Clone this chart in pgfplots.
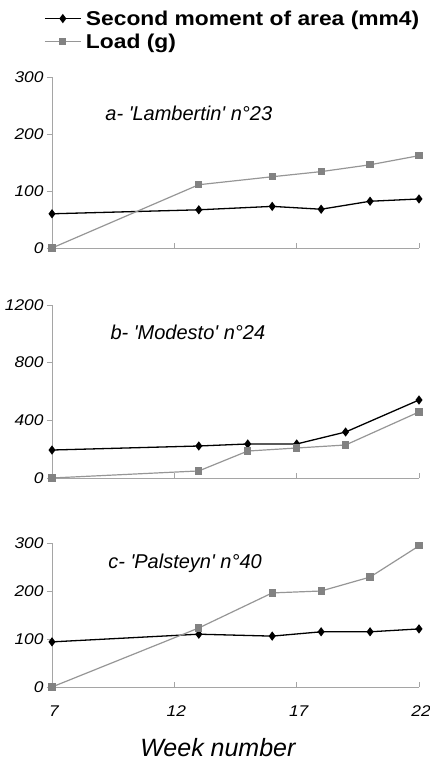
\documentclass[border=0pt]{standalone}
\usepackage{fontspec}
\setmainfont{Liberation Sans}
\newfontfamily\widesans[FakeStretch=1.12]{Liberation Sans}
\newfontfamily\legsans[FakeStretch=1.14]{Liberation Sans}
\usepackage{pgfplots}
\pgfplotsset{compat=1.18}

\definecolor{axgray}{RGB}{165,165,165}
\definecolor{loadgray}{RGB}{150,150,150}
\definecolor{loadmark}{RGB}{130,130,130}

\newcommand{\tickf}{\widesans\itshape\fontsize{15.5bp}{18bp}\selectfont}
\newcommand{\legf}{\legsans\bfseries\fontsize{20bp}{24bp}\selectfont}
\newcommand{\titf}{\itshape\fontsize{20bp}{24bp}\selectfont}
\newcommand{\q}{\textquotesingle}

\pgfplotsset{
  panel/.style={
    scale only axis, width=367bp,
    xmin=7, xmax=22, ymin=0,
    xtick={7,12,17,22},
    axis lines*=left,
    axis line style={axgray, line width=0.9bp},
    tick style={axgray, line width=0.9bp},
    major tick length=5bp,
    xtick align=inside, ytick align=outside,
    ticklabel style={font=\tickf, black},
    /pgf/number format/assume math mode=true,
    /pgf/number format/1000 sep={},
    xticklabel style={yshift=-15bp, xshift=2bp},
    clip=false,
  },
  moment/.style={black, line width=1.3bp, mark=diamond*, mark size=3.6bp,
    mark options={solid, fill=black}},
  load/.style={loadgray, line width=1.2bp, mark=square*, mark size=3bp,
    mark options={solid, fill=loadmark, draw=loadmark}},
}

\begin{document}
\begin{tikzpicture}
\useasboundingbox (0,0) rectangle (430bp,762bp);

% a - Lambertin
\begin{axis}[panel, at={(52bp,514bp)}, height=171bp,
  ymax=300, ytick={0,100,200,300}, xticklabels={},
  legend style={at={(axis description cs:-0.03,1.41)}, anchor=north west,
    draw=none, fill=none, font=\legf, row sep=4bp,
    nodes={inner sep=1.5bp},
    /tikz/every odd column/.append style={column sep=3bp}},
  legend cell align=left,
  legend image code/.code={\draw[mark repeat=2, mark phase=2, #1]
    plot coordinates {(0bp,0bp) (18bp,0bp) (36bp,0bp)};},
]
\addplot[moment] coordinates {(7,60) (13,67) (16,73) (18,68) (20,82) (22,86)};
\addlegendentry{Second moment of area (mm4)}
\addplot[load] coordinates {(7,0) (13,111) (16,125) (18,134) (20,146) (22,162)};
\addlegendentry{Load (g)}
\node[anchor=west, font=\titf] at (rel axis cs:0.136,0.79) {a- \q Lambertin\q{} n°23};
\end{axis}

% b - Modesto
\begin{axis}[panel, at={(52bp,284bp)}, height=173bp,
  ymax=1200, ytick={0,400,800,1200}, xticklabels={}]
\addplot[moment] coordinates {(7,194) (13,222) (15,236) (17,236) (19,319) (22,541)};
\addplot[load] coordinates {(7,0) (13,49) (15,187) (17,208) (19,229) (22,458)};
\node[anchor=west, font=\titf] at (rel axis cs:0.15,0.844) {b- \q Modesto\q{} n°24};
\end{axis}

% c - Palsteyn
\begin{axis}[panel, at={(52bp,75bp)}, height=144bp,
  ymax=300, ytick={0,100,200,300},
  xlabel={Week number},
  xlabel style={font=\itshape\fontsize{25bp}{30bp}\selectfont,
    at={(axis description cs:0.452,-0.424)}, anchor=center},
]
\addplot[moment] coordinates {(7,94) (13,110) (16,106) (18,115) (20,115) (22,121)};
\addplot[load] coordinates {(7,0) (13,123) (16,196) (18,200) (20,229) (22,294)};
\node[anchor=west, font=\titf] at (rel axis cs:0.144,0.861) {c- \q Palsteyn\q{} n°40};
\end{axis}
\end{tikzpicture}
\end{document}
